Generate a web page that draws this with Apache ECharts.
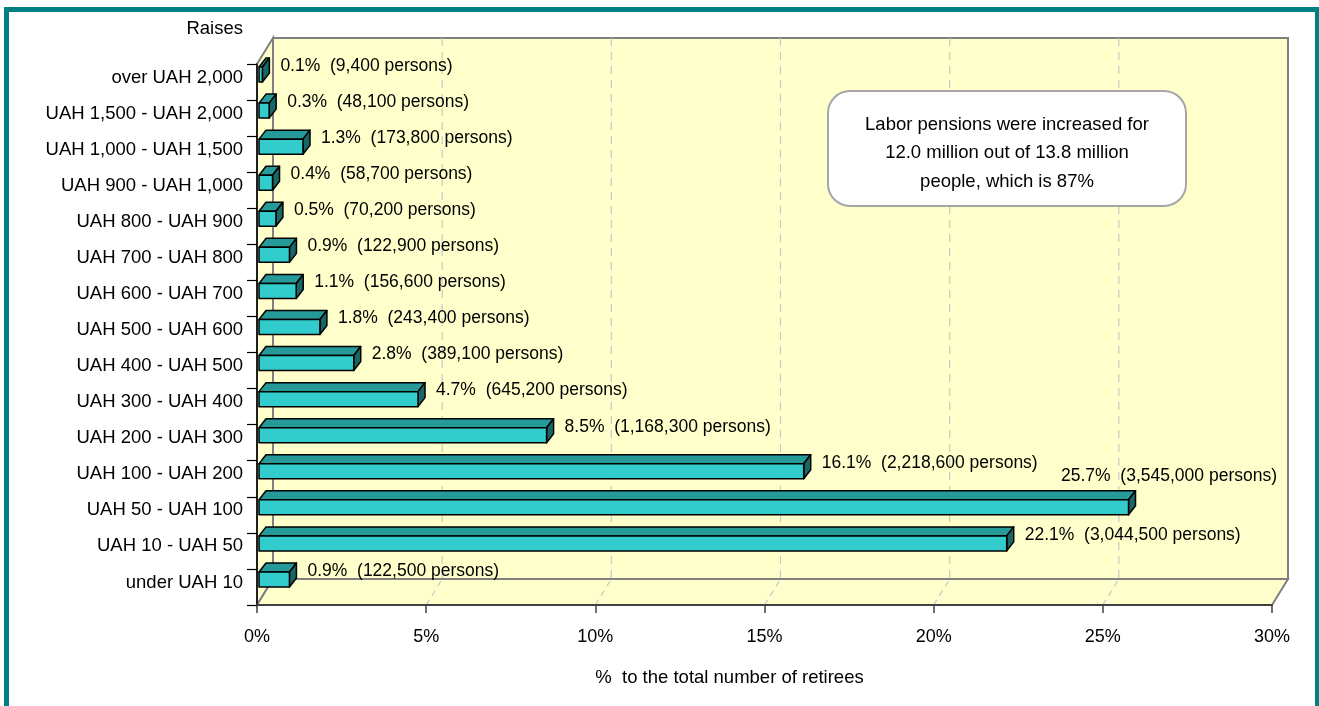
<!DOCTYPE html>
<html>
<head>
<meta charset="utf-8">
<title>Raises of labor pensions</title>
<script src="https://cdn.jsdelivr.net/npm/echarts@6/dist/echarts.min.js"></script>
<style>
  html, body { margin: 0; padding: 0; background: #ffffff; overflow: hidden; }
  #chart { position: absolute; left: 0; top: 0; width: 1319px; height: 706px; }
  #frame {
    position: absolute; left: 4px; top: 7px; width: 1316px; height: 800px;
    border: 5px solid #008080; box-sizing: border-box; pointer-events: none;
  }
</style>
</head>
<body>
<div id="chart"></div>
<div id="frame"></div>
<script>
// Raise brackets, top to bottom
const categories = [
  'over UAH 2,000',
  'UAH 1,500 - UAH 2,000',
  'UAH 1,000 - UAH 1,500',
  'UAH 900 - UAH 1,000',
  'UAH 800 - UAH 900',
  'UAH 700 - UAH 800',
  'UAH 600 - UAH 700',
  'UAH 500 - UAH 600',
  'UAH 400 - UAH 500',
  'UAH 300 - UAH 400',
  'UAH 200 - UAH 300',
  'UAH 100 - UAH 200',
  'UAH 50 - UAH 100',
  'UAH 10 - UAH 50',
  'under UAH 10'
];
// Share of all retirees, %
const shares = [0.1, 0.3, 1.3, 0.4, 0.5, 0.9, 1.1, 1.8, 2.8, 4.7, 8.5, 16.1, 25.7, 22.1, 0.9];
// Number of persons in each bracket
const persons = [9400, 48100, 173800, 58700, 70200, 122900, 156600, 243400, 389100, 645200, 1168300, 2218600, 3545000, 3044500, 122500];
// Value axis
const axisMin = 0;
const axisMax = 30;
const axisStep = 5;
const noteLines = [
  'Labor pensions were increased for',
  '12.0 million out of 13.8 million',
  'people, which is 87%'
];

const FONT = '"Liberation Sans", Arial, sans-serif';
const WALL = '#FFFFCC';
const EDGE = '#808080';
const DEPTH = [16, -26];      // offset from front plane to back wall
const BAR_DEPTH = [7, -9];    // thickness of each box in depth
const BAR_SHIFT = 2;          // front face sits slightly behind the front plane

const fmt = n => n.toLocaleString('en-US');
const labelText = i => shares[i].toFixed(1) + '%  (' + fmt(persons[i]) + ' persons)';

const measureCtx = document.createElement('canvas').getContext('2d');
function textWidth(t, size) {
  measureCtx.font = size + 'px ' + FONT;
  return measureCtx.measureText(t).width;
}

// Walls, floor and dashed gridlines of the 3-D frame
function renderWalls(params, api) {
  const cs = params.coordSys;
  const L = cs.x, R = cs.x + cs.width, T = cs.y, B = cs.y + cs.height;
  const dx = DEPTH[0], dy = DEPTH[1];
  const wallStyle = { fill: WALL, stroke: EDGE, lineWidth: 2 };
  const children = [
    { type: 'polygon', shape: { points: [[L + dx, T + dy], [R + dx, T + dy], [R + dx, B + dy], [L + dx, B + dy]] }, style: wallStyle },
    { type: 'polygon', shape: { points: [[L, T], [L + dx, T + dy], [L + dx, B + dy], [L, B]] }, style: wallStyle },
    { type: 'polygon', shape: { points: [[L, B], [L + dx, B + dy], [R + dx, B + dy], [R, B]] }, style: wallStyle }
  ];
  for (let v = axisMin + axisStep; v < axisMax; v += axisStep) {
    const x = api.coord([v, 0])[0];
    children.push({
      type: 'line',
      shape: { x1: x + dx, y1: T + dy, x2: x + dx, y2: B + dy },
      style: { stroke: '#C8C8C8', lineWidth: 1.2, lineDash: [8, 6] }
    });
    children.push({
      type: 'line',
      shape: { x1: x, y1: B, x2: x + dx, y2: B + dy },
      style: { stroke: '#C8C8C8', lineWidth: 1.2, lineDash: [6, 5] }
    });
  }
  return { type: 'group', children };
}

// One 3-D box per bracket, with its value label
function renderBar(params, api) {
  const i = params.dataIndex;
  const v = api.value(0);
  const idx = api.value(1);
  const base = api.coord([0, idx]);
  const end = api.coord([v, idx]);
  const band = api.size([0, 1])[1];
  const h = band * 0.416;
  const cy = base[1];
  const x0 = base[0] + BAR_SHIFT;
  const x1 = end[0] + BAR_SHIFT;
  const yT = cy - h, yB = cy;
  const ddx = BAR_DEPTH[0], ddy = BAR_DEPTH[1];
  const stroke = { stroke: '#000000', lineWidth: 1.5, lineJoin: 'round' };

  const cs = params.coordSys;
  const backRight = cs.x + cs.width + DEPTH[0];
  const text = labelText(i);
  const size = 17.5;
  let lx = x1 + ddx + 11, ly = cy - 16, align = 'left';
  if (lx + textWidth(text, size) > backRight) {
    lx = cs.x + cs.width + 5;
    ly = cy - 39;
    align = 'right';
  }

  return {
    type: 'group',
    children: [
      { type: 'polygon', shape: { points: [[x0, yT], [x0 + ddx, yT + ddy], [x1 + ddx, yT + ddy], [x1, yT]] },
        style: Object.assign({ fill: '#269999' }, stroke) },
      { type: 'polygon', shape: { points: [[x1, yT], [x1 + ddx, yT + ddy], [x1 + ddx, yB + ddy], [x1, yB]] },
        style: Object.assign({ fill: '#1A6666' }, stroke) },
      { type: 'rect', shape: { x: x0, y: yT, width: x1 - x0, height: yB - yT },
        style: Object.assign({ fill: '#33CCCC' }, stroke) },
      { type: 'text', x: lx, y: ly,
        style: { text: text, fill: '#000000', font: size + 'px ' + FONT, textAlign: align, textVerticalAlign: 'middle' } }
    ]
  };
}

const chart = echarts.init(document.getElementById('chart'), null, { renderer: 'canvas' });

chart.setOption({
  backgroundColor: 'transparent',
  animation: false,
  textStyle: { fontFamily: FONT },
  grid: { left: 257, right: 47, top: 64, bottom: 101, containLabel: false },
  xAxis: {
    type: 'value',
    min: axisMin,
    max: axisMax,
    interval: axisStep,
    axisLine: { show: true, lineStyle: { color: '#404040', width: 2 } },
    axisTick: { show: true, length: 8, lineStyle: { color: '#404040', width: 1.5 } },
    splitLine: { show: false },
    axisLabel: { formatter: '{value}%', color: '#000000', fontSize: 18, fontFamily: FONT, margin: 23 },
    name: '%  to the total number of retirees',
    nameLocation: 'middle',
    nameGap: 63,
    nameTextStyle: { color: '#000000', fontSize: 18.5, fontFamily: FONT, padding: [0, 70, 0, 0] }
  },
  yAxis: {
    type: 'category',
    data: categories,
    inverse: true,
    axisLine: { show: true, lineStyle: { color: '#000000', width: 1.5 } },
    axisTick: { show: true, length: 10, lineStyle: { color: '#000000', width: 1.2 } },
    splitLine: { show: false },
    axisLabel: { color: '#000000', fontSize: 18.5, fontFamily: FONT, margin: 14, verticalAlign: 'bottom', lineHeight: 9 }
  },
  graphic: [
    {
      type: 'text', x: 243, y: 29,
      style: { text: 'Raises', fill: '#000000', font: '18.5px ' + FONT, textAlign: 'right', textVerticalAlign: 'middle' }
    },
    {
      type: 'group', x: 828, y: 91, z: 100,
      children: [
        { type: 'rect', shape: { x: 0, y: 0, width: 358, height: 115, r: 22 },
          style: { fill: '#FFFFFF', stroke: '#A6A6A6', lineWidth: 2 } },
        { type: 'text', x: 179, y: 33.5,
          style: { text: noteLines[0], fill: '#000000', font: '18.5px ' + FONT, textAlign: 'center', textVerticalAlign: 'middle' } },
        { type: 'text', x: 179, y: 62,
          style: { text: noteLines[1], fill: '#000000', font: '18.5px ' + FONT, textAlign: 'center', textVerticalAlign: 'middle' } },
        { type: 'text', x: 179, y: 90.5,
          style: { text: noteLines[2], fill: '#000000', font: '18.5px ' + FONT, textAlign: 'center', textVerticalAlign: 'middle' } }
      ]
    }
  ],
  series: [
    {
      type: 'custom',
      name: 'frame',
      z: -1,
      silent: true,
      renderItem: renderWalls,
      data: [[axisMin, 0]],
      encode: { x: 0, y: 1 }
    },
    {
      type: 'custom',
      name: 'share',
      z: 3,
      renderItem: renderBar,
      data: shares.map((v, i) => [v, i]),
      encode: { x: 0, y: 1 }
    }
  ]
});
</script>
</body>
</html>
